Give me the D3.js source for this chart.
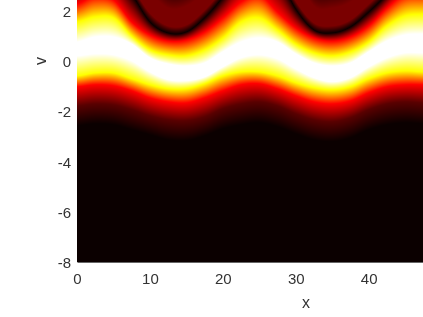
<!DOCTYPE html>
<html>
<head>
<meta charset="utf-8">
<script src="https://cdnjs.cloudflare.com/ajax/libs/d3/7.8.5/d3.min.js"></script>
<style>
  html, body { margin: 0; padding: 0; background: #fff; overflow: hidden; }
  #chart { position: relative; width: 423px; height: 317px; }
  canvas, svg { position: absolute; left: 0; top: 0; }
  text { font-family: "Liberation Sans", Arial, sans-serif; fill: #333; }
</style>
</head>
<body>
<div id="chart"></div>
<script>
// Columns, v position of each colour level at each x
var xStations = [0, 2.5, 5, 7.5, 10, 12.5, 15, 17.5, 20, 22.5, 25, 27.5, 30, 32.5, 35, 37.5, 40, 42.5, 45, 47.5]

var lowBlack = [-2.56, -2.48, -2.52, -2.72, -2.92, -3.12, -3.15, -2.96, -2.68, -2.52, -2.44, -2.60, -2.88, -3.12, -3.19, -3.04, -2.72, -2.52, -2.44, -2.48]
var lowDark = [-1.77, -1.69, -1.73, -1.92, -2.16, -2.32, -2.36, -2.20, -1.88, -1.69, -1.61, -1.77, -2.08, -2.32, -2.40, -2.24, -1.92, -1.69, -1.61, -1.65]
var lowRed = [-1.01, -0.93, -0.97, -1.17, -1.45, -1.61, -1.65, -1.45, -1.17, -0.93, -0.89, -1.09, -1.37, -1.61, -1.69, -1.57, -1.25, -1.01, -0.93, -0.93]
var lowYellow = [-0.58, -0.46, -0.46, -0.69, -0.93, -1.09, -1.09, -0.89, -0.58, -0.42, -0.42, -0.58, -0.85, -1.05, -1.13, -1.01, -0.69, -0.46, -0.38, -0.42]
var lowWhite = [0.22, 0.30, 0.26, 0.02, -0.42, -0.73, -0.77, -0.62, -0.22, 0.14, 0.26, 0.10, -0.30, -0.65, -0.81, -0.65, -0.22, 0.14, 0.34, 0.34]
var upWhite = [0.77, 0.97, 0.97, 0.69, 0.14, -0.10, -0.18, -0.06, 0.38, 0.77, 0.93, 0.77, 0.30, -0.06, -0.18, -0.06, 0.38, 0.81, 1.05, 1.09]
var upYellow = [1.57, 1.77, 1.73, 1.01, 0.46, 0.26, 0.22, 0.46, 0.93, 1.57, 1.73, 1.25, 0.69, 0.34, 0.22, 0.38, 0.77, 1.41, 1.81, 1.88]
var upRed = [2.28, 2.60, 2.44, 1.57, 1.05, 0.81, 0.85, 1.17, 1.73, 2.36, 2.64, 1.96, 1.33, 0.93, 0.81, 0.97, 1.41, 2.12, 2.68, 2.76]
var zeroLine = [3.23, 4.03, 3.63, 2.68, 1.57, 1.13, 1.17, 1.73, 2.56, 3.63, 4.03, 3.43, 2.08, 1.25, 1.13, 1.37, 1.96, 2.68, 3.63, 4.03]
var innerLow = [3.51, 4.31, 3.91, 2.99, 1.92, 1.41, 1.45, 2.04, 2.88, 3.91, 4.31, 3.75, 2.40, 1.53, 1.41, 1.65, 2.28, 2.99, 3.91, 4.31]
var innerHigh = [4.03, 4.82, 4.42, 3.63, 2.76, 2.12, 2.20, 2.76, 3.63, 4.42, 4.82, 4.22, 3.43, 2.20, 2.12, 2.36, 2.99, 3.63, 4.42, 4.82]
var innerCore = [4.66, 5.46, 5.06, 4.26, 3.63, 2.76, 2.84, 3.63, 4.26, 5.06, 5.46, 4.86, 4.07, 2.84, 2.76, 2.99, 3.63, 4.26, 5.06, 5.46]

var isolines = [lowBlack, lowDark, lowRed, lowYellow, lowWhite, upWhite, upYellow, upRed, zeroLine, innerLow, innerHigh, innerCore]
var levels = [0, 0.12, 0.375, 0.75, 1, 1, 0.75, 0.375, 0, 0.17, 0.17, 0.07]

var xTicks = [0, 10, 20, 30, 40]
var yTicks = [-8, -6, -4, -2, 0, 2]

var width = 423
var height = 317

var xscale = d3.scaleLinear().domain([0, 47.45]).range([77, 423])
var yscale = d3.scaleLinear().domain([-8, 2.44]).range([262.5, 0])
var stationIndex = d3.scaleLinear().domain(d3.extent(xStations)).range([0, xStations.length - 1])

// Hot colormap
var hot = d3.scaleLinear()
  .domain([0, 0.375, 0.75, 1])
  .range(["#0b0000", "#ff0000", "#ffff00", "#ffffff"])
  .clamp(true)

// Smooth reading of one isoline between its stations
function readLine(line, x){
  var f = Math.max(0, Math.min(line.length - 1.001, stationIndex(x)))
  var i = Math.floor(f)
  var t = f - i
  var p0 = line[Math.max(0, i - 1)], p1 = line[i], p2 = line[i + 1], p3 = line[Math.min(line.length - 1, i + 2)]
  return 0.5 * (2 * p1 + (p2 - p0) * t + (2 * p0 - 5 * p1 + 4 * p2 - p3) * t * t + (3 * p1 - p0 - 3 * p2 + p3) * t * t * t)
}

var canvas = d3.select("#chart").append("canvas")
  .attr("width", width)
  .attr("height", height)
var ctx = canvas.node().getContext("2d")

// Paint the field one pixel at a time
for(var px = 77; px < width; px++){
  var x = xscale.invert(px + 0.5)
  var last = -Infinity
  var dom = isolines.map(function(line){
    last = Math.max(last + 0.001, readLine(line, x))
    return last
  })
  var column = d3.scaleLinear().domain(dom).range(levels).clamp(true)
  for(var py = 0; py < 262; py++){
    ctx.fillStyle = hot(column(yscale.invert(py + 0.5)))
    ctx.fillRect(px, py, 1, 1)
  }
}

var svg = d3.select("#chart").append("svg")
  .attr("width", width)
  .attr("height", height)

var xaxis = d3.axisBottom(xscale)
  .tickValues(xTicks)
  .tickSize(0)
  .tickPadding(11.5)
  .tickFormat(function(d){ return String(d) })

var yaxis = d3.axisLeft(yscale)
  .tickValues(yTicks)
  .tickSize(0)
  .tickPadding(6)
  .tickFormat(function(d){ return String(d) })

var gx = svg.append("g")
  .attr("transform", "translate(0,262)")
  .call(xaxis)
gx.select(".domain").attr("stroke", "#666").attr("stroke-width", 1)

var gy = svg.append("g")
  .attr("transform", "translate(77,0.5)")
  .call(yaxis)
gy.select(".domain").remove()

svg.selectAll(".tick text")
  .style("font-size", "15px")
  .attr("fill", "#333")

svg.append("text")
  .attr("x", 306)
  .attr("y", 307.5)
  .attr("text-anchor", "middle")
  .style("font-size", "16px")
  .text("x")

svg.append("text")
  .attr("transform", "translate(46,61) rotate(-90)")
  .attr("text-anchor", "middle")
  .style("font-size", "16px")
  .text("v")
</script>
</body>
</html>
